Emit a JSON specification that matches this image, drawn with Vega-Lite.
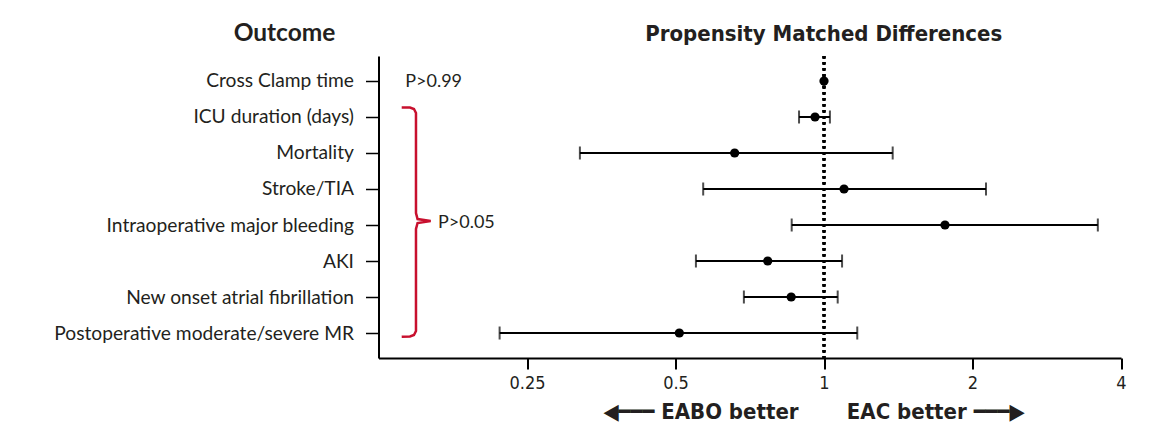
{
  "$schema": "https://vega.github.io/schema/vega-lite/v6.json",
  "width": 742.5,
  "height": 302,
  "autosize": {"type": "none"},
  "padding": {"left": 378.5, "top": 56, "right": 48, "bottom": 79},
  "background": "white",
  "config": {
    "view": {"stroke": null},
    "axis": {"grid": false, "domainColor": "#000", "tickColor": "#000", "labelColor": "#231f20", "titleColor": "#231f20"}
  },
  "title": {
    "text": "Propensity Matched Differences",
    "anchor": "middle",
    "frame": "group",
    "dx": 74,
    "offset": -36,
    "baseline": "middle",
    "font": "Liberation Sans Narrow, DejaVu Sans Condensed, Roboto",
    "fontSize": 22,
    "fontWeight": "bold",
    "color": "#231f20"
  },
  "datasets": {
    "outcomes": [
      {"outcome": "Cross Clamp time", "est": 1.0, "lo": 0.997, "hi": 1.003},
      {"outcome": "ICU duration (days)", "est": 0.959, "lo": 0.89, "hi": 1.028},
      {"outcome": "Mortality", "est": 0.659, "lo": 0.32, "hi": 1.378},
      {"outcome": "Stroke/TIA", "est": 1.098, "lo": 0.569, "hi": 2.13},
      {"outcome": "Intraoperative major bleeding", "est": 1.759, "lo": 0.86, "hi": 3.59},
      {"outcome": "AKI", "est": 0.769, "lo": 0.55, "hi": 1.088},
      {"outcome": "New onset atrial fibrillation", "est": 0.858, "lo": 0.688, "hi": 1.066},
      {"outcome": "Postoperative moderate/severe MR", "est": 0.509, "lo": 0.22, "hi": 1.168}
    ],
    "brace": [
      {"k": 1, "bx": 0.1393, "by": 1.708},
      {"k": 2, "bx": 0.1448, "by": 1.708},
      {"k": 3, "bx": 0.1475, "by": 1.75},
      {"k": 4, "bx": 0.1489, "by": 1.861},
      {"k": 5, "bx": 0.1489, "by": 4.639},
      {"k": 6, "bx": 0.15, "by": 4.806},
      {"k": 7, "bx": 0.1595, "by": 4.861},
      {"k": 8, "bx": 0.15, "by": 4.917},
      {"k": 9, "bx": 0.1489, "by": 5.083},
      {"k": 10, "bx": 0.1489, "by": 7.917},
      {"k": 11, "bx": 0.1475, "by": 8.028},
      {"k": 12, "bx": 0.1448, "by": 8.069},
      {"k": 13, "bx": 0.1393, "by": 8.078}
    ],
    "notes": [
      {"label": "P>0.99", "nx": 0.1416, "ny": 1.0},
      {"label": "P>0.05", "nx": 0.165, "ny": 4.92}
    ]
  },
  "layer": [
    {
      "data": {"name": "outcomes"},
      "layer": [
        {
          "mark": {"type": "rule", "color": "#000", "strokeWidth": 2.5, "strokeDash": [2.5, 3.5]},
          "encoding": {"x": {"datum": 1}}
        },
        {
          "mark": {"type": "rule", "color": "#000", "strokeWidth": 2},
          "encoding": {
            "x": {
              "field": "lo", "type": "quantitative",
              "scale": {"type": "log", "base": 2, "domain": [0.125, 4], "nice": false},
              "axis": {
                "values": [0.25, 0.5, 1, 2, 4],
                "format": "~g",
                "labelFlush": false,
                "labelOverlap": false,
                "domainWidth": 2,
                "tickWidth": 2,
                "tickSize": 11,
                "labelPadding": 5,
                "labelFont": "Liberation Sans Narrow, DejaVu Sans Condensed, Roboto",
                "labelFontSize": 18,
                "title": "◀━━━ EABO better\u00a0\u00a0\u00a0\u00a0\u00a0\u00a0\u00a0EAC better ━━━▶",
                "titleFont": "Liberation Sans Narrow, DejaVu Sans Condensed, Roboto",
                "titleFontSize": 22,
                "titleFontWeight": "bold",
                "titleX": 435,
                "titleY": 53,
                "titleAlign": "center",
                "titleBaseline": "middle"
              }
            },
            "x2": {"field": "hi"},
            "y": {
              "field": "outcome", "type": "nominal", "sort": null,
              "scale": {"type": "point", "padding": 0.694},
              "axis": {
                "domainWidth": 2,
                "tickWidth": 1.5,
                "tickSize": 13,
                "labelPadding": 12,
                "labelLimit": 500,
                "labelFont": "Lato",
                "labelFontSize": 19.2,
                "title": "Outcome",
                "titleAngle": 0,
                "titleX": -94.5,
                "titleY": -23,
                "titleAlign": "center",
                "titleBaseline": "middle",
                "titleFont": "Lato",
                "titleFontSize": 24.5,
                "titleFontWeight": "bold"
              }
            }
          }
        },
        {
          "mark": {"type": "tick", "color": "#000", "thickness": 2, "size": 13},
          "encoding": {
            "x": {"field": "lo", "type": "quantitative"},
            "y": {"field": "outcome", "type": "nominal", "sort": null}
          }
        },
        {
          "mark": {"type": "tick", "color": "#000", "thickness": 2, "size": 13},
          "encoding": {
            "x": {"field": "hi", "type": "quantitative"},
            "y": {"field": "outcome", "type": "nominal", "sort": null}
          }
        },
        {
          "mark": {"type": "point", "filled": true, "color": "#000", "size": 85, "opacity": 1},
          "encoding": {
            "x": {"field": "est", "type": "quantitative"},
            "y": {"field": "outcome", "type": "nominal", "sort": null}
          }
        }
      ]
    },
    {
      "layer": [
        {
          "data": {"name": "brace"},
          "mark": {"type": "line", "color": "#c8102e", "strokeWidth": 2.5},
          "encoding": {
            "x": {"field": "bx", "type": "quantitative"},
            "y": {
              "field": "by", "type": "quantitative",
              "scale": {"domain": [0.2778, 8.6667], "reverse": true, "nice": false, "zero": false},
              "axis": null
            },
            "order": {"field": "k", "type": "quantitative"}
          }
        },
        {
          "data": {"name": "notes"},
          "mark": {"type": "text", "align": "left", "baseline": "middle", "font": "Lato", "fontSize": 18, "color": "#231f20"},
          "encoding": {
            "x": {"field": "nx", "type": "quantitative"},
            "y": {"field": "ny", "type": "quantitative", "axis": null},
            "text": {"field": "label"}
          }
        }
      ]
    }
  ],
  "resolve": {"scale": {"y": "independent"}}
}
